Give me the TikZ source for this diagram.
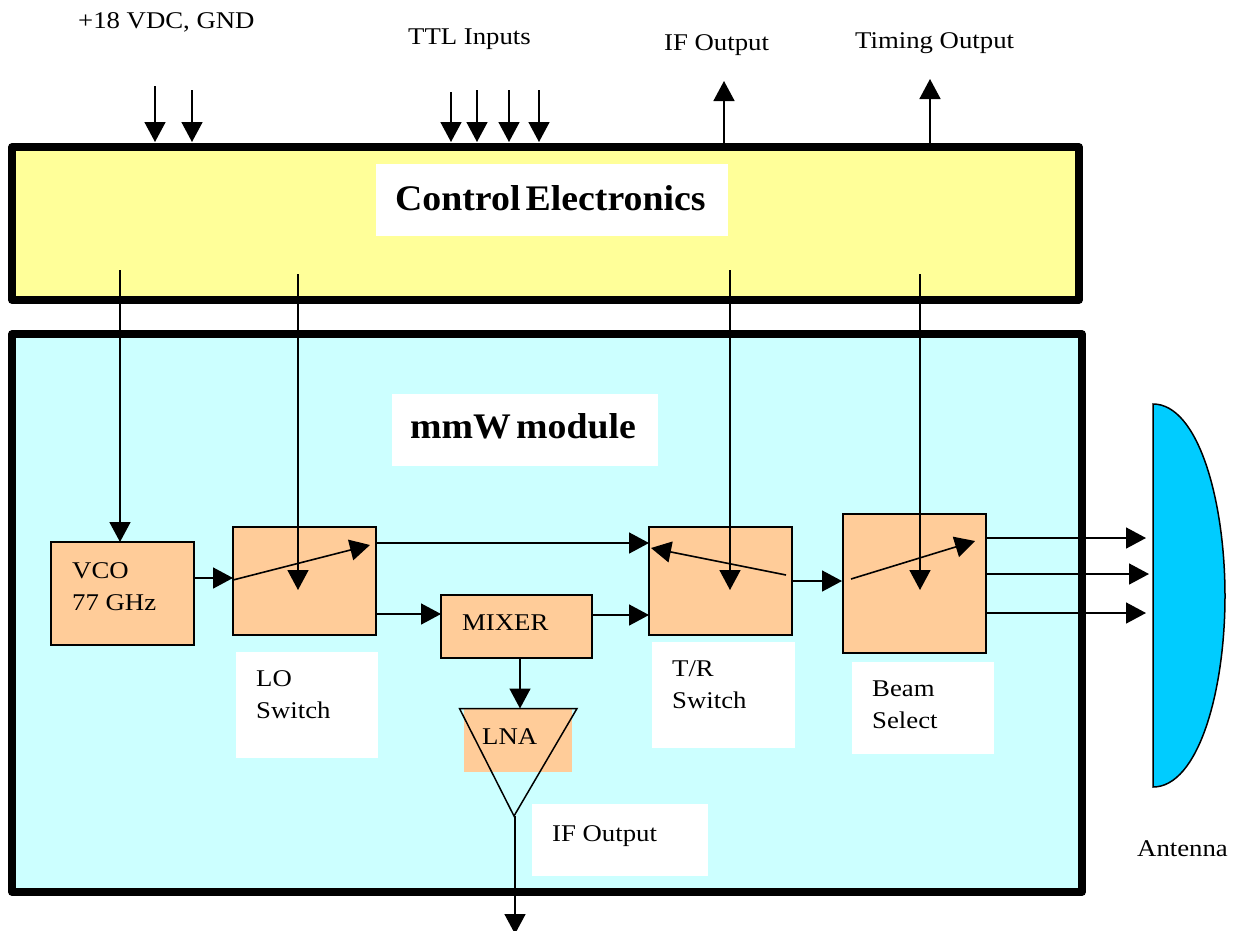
\documentclass[tikz,border=0pt]{standalone}
\usepackage{fontspec}
\setmainfont[FakeStretch=1.115,BoldFeatures={FakeStretch=1.05,WordSpace=0.55}]{Liberation Serif}
\usepackage{xcolor}
\usetikzlibrary{positioning,arrows.meta}
\definecolor{ctrlcolor}{HTML}{FFFF99}
\definecolor{modcolor}{HTML}{CCFFFF}
\definecolor{partcolor}{HTML}{FFCC99}
\definecolor{antcolor}{HTML}{00CCFF}

\begin{document}
\begin{tikzpicture}[
    x=1pt, y=-1pt,
    frame/.style={draw, line width=7.5pt, line join=round, outer sep=0pt, inner sep=0pt, anchor=north west},
    part/.style={draw, line width=1.5pt, fill=partcolor, outer sep=0pt, inner sep=0pt, anchor=north west},
    blank/.style={fill=white, outer sep=0pt, inner sep=0pt, anchor=north west},
    txt/.style={font=\fontsize{24}{32}\selectfont, inner sep=0pt, anchor=base west},
    head/.style={font=\fontsize{36}{40}\selectfont\bfseries, inner sep=0pt, anchor=base west},
    sig/.style={line width=1.6pt, -{Triangle[width=21pt,length=20pt]}},
  ]
  \useasboundingbox (0,0) rectangle (1243,930);

  % the two large blocks
  \node[frame, fill=ctrlcolor, minimum width=1067pt, minimum height=153pt] (ctrl) at (12,147) {};
  \node[frame, fill=modcolor, minimum width=1070pt, minimum height=558pt] (mod) at (12,334) {};
  \node[blank, minimum width=352pt, minimum height=72pt] (ctrlbg) at (376,164) {};
  \node[blank, minimum width=266pt, minimum height=72pt] (modbg) at (392,394) {};
  \node[head] (ctrltxt) at (395,210) {Control Electronics};
  \node[head] (modtxt) at (410,438) {mmW module};

  % parts
  \node[part, minimum width=143pt, minimum height=103pt] (vco) at (51,542) {};
  \node[part, minimum width=143pt, minimum height=108pt] (lo) at (233,527) {};
  \node[part, minimum width=151pt, minimum height=63pt] (mixer) at (441,595) {};
  \node[part, minimum width=143pt, minimum height=108pt] (tr) at (649,527) {};
  \node[part, minimum width=143pt, minimum height=139pt] (beam) at (843,514) {};
  \node[fill=partcolor, outer sep=0pt, inner sep=0pt, anchor=north west, minimum width=108pt, minimum height=64pt] (lnabg) at (464,708) {};

  % white label plates
  \node[blank, minimum width=142pt, minimum height=106pt] (lobg) at (236,652) {};
  \node[blank, minimum width=143pt, minimum height=106pt] (trbg) at (652,642) {};
  \node[blank, minimum width=142pt, minimum height=92pt] (beambg) at (852,662) {};
  \node[blank, minimum width=176pt, minimum height=72pt] (ifbg) at (532,804) {};

  % amplifier outline
  \coordinate (lnal) at (459.5,708.5);
  \coordinate (lnar) at (577,708.5);
  \coordinate (lnatip) at (514,816);
  \draw[line width=1.5pt] (lnal) -- (lnar) -- (lnatip) -- cycle;

  % antenna
  \draw[line width=1.5pt, fill=antcolor] (1153,404) .. controls (1198,404) and (1225,500) .. (1225,596)
    .. controls (1225,692) and (1198,787) .. (1153,787) -- cycle;

  % texts
  \node[txt] (dctxt) at (78,28) {+18 VDC, GND};
  \node[txt] (ttltxt) at (408,44) {TTL Inputs};
  \node[txt] (iftxt) at (664,50) {IF Output};
  \node[txt] (timetxt) at (855,48) {Timing Output};
  \node[txt] (vcotxt) at (72,578) {VCO};
  \node[txt] (vcotxtb) at (72,610) {77 GHz};
  \node[txt] (lotxt) at (256,686) {LO};
  \node[txt] (lotxtb) at (256,718) {Switch};
  \node[txt] (mixtxt) at (462,630) {MIXER};
  \node[txt] (lnatxt) at (482,744) {LNA};
  \node[txt] (iftxtb) at (552,841) {IF Output};
  \node[txt] (trtxt) at (672,676) {T/R};
  \node[txt] (trtxtb) at (672,708) {Switch};
  \node[txt] (beamtxt) at (872,696) {Beam};
  \node[txt] (beamtxtb) at (872,728) {Select};
  \node[txt] (anttxt) at (1137,856) {Antenna};

  % supply, ttl and outputs on the control block
  \foreach \px/\py in {155/86,192/90,451/92,477/90,509/90,539/90}
    \draw[sig] (\px,\py) -- (\px,142);
  \coordinate (ifout) at (724,81);
  \coordinate (timeout) at (930,79);
  \draw[sig] (ctrl.north -| ifout) -- (ifout);
  \draw[sig] (ctrl.north -| timeout) -- (timeout);

  % control lines
  \draw[sig] (120,270) -- (vco.north -| 120,0);
  \draw[sig] (298,274) -- (298,590);
  \draw[sig] (730,270) -- (730,590);
  \draw[sig] (920,274) -- (920,590);

  % signal path
  \draw[sig] (vco.east |- 0,578) -- (lo.west |- 0,578);
  \draw[sig] (lo.east |- 0,543) -- (tr.west |- 0,543);
  \draw[sig] (lo.east |- 0,614) -- (mixer.west |- 0,614);
  \draw[sig] (mixer.east |- 0,615) -- (tr.west |- 0,615);
  \draw[sig] (mixer.south -| 520,0) -- (lnal -| 520,0);
  \draw[sig] (tr.east |- 0,581) -- (842,581);
  \coordinate (anta) at (1146,538);
  \coordinate (antb) at (1149,574);
  \coordinate (antc) at (1146,613);
  \draw[sig] (beam.east |- anta) -- (anta);
  \draw[sig] (beam.east |- antb) -- (antb);
  \draw[sig] (beam.east |- antc) -- (antc);
  \coordinate (ifend) at (515,934);
  \draw[sig] (lnatip -| ifend) -- (ifend);

  % switch arms
  \draw[sig] (233,580) -- (370,545);
  \draw[sig] (786,575) -- (651,548);
  \draw[sig] (851,579) -- (975,541);
\end{tikzpicture}
\end{document}
